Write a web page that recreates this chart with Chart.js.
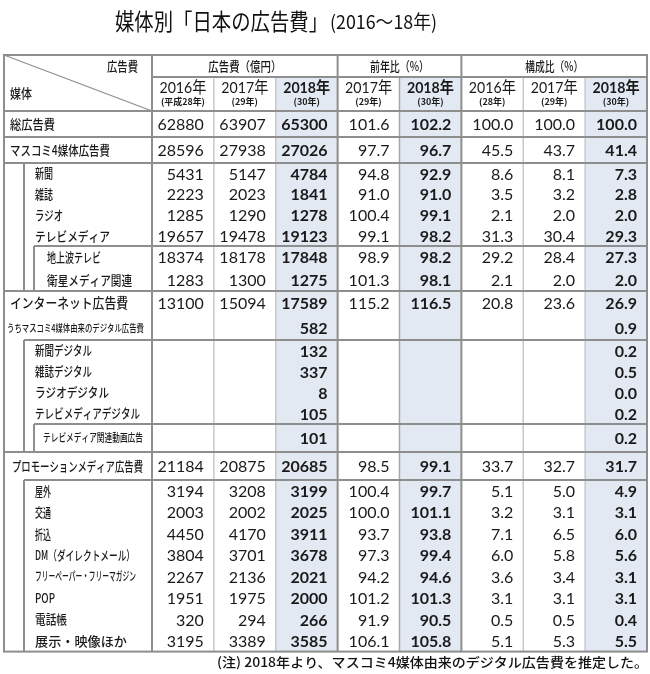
<!DOCTYPE html>
<html lang="ja">
<head>
<meta charset="utf-8">
<script src="https://cdn.jsdelivr.net/npm/chart.js@4.4.1/dist/chart.umd.min.js"></script>
<style>
  html, body { margin: 0; padding: 0; background: #fff; }
  canvas { display: block; }
</style>
</head>
<body>
<canvas id="ad-spend-table" width="650" height="674"></canvas>
<script>
// Data
const title = '媒体別「日本の広告費」';
const titleYears = '(2016〜18年)';
const footnote = '(注) 2018年より、マスコミ4媒体由来のデジタル広告費を推定した。';
const cornerLabels = ['広告費', '媒体'];
const groupLabels = ['広告費（億円）', '前年比（%）', '構成比（%）'];
const yearLabels = ['2016年', '2017年', '2018年', '2017年', '2018年', '2016年', '2017年', '2018年'];
const yearSubLabels = ['(平成28年)', '(29年)', '(30年)', '(29年)', '(30年)', '(28年)', '(29年)', '(30年)'];

const media = [
  '総広告費', 'マスコミ4媒体広告費', '新聞', '雑誌', 'ラジオ', 'テレビメディア', '地上波テレビ', '衛星メディア関連',
  'インターネット広告費', 'うちマスコミ4媒体由来のデジタル広告費', '新聞デジタル', '雑誌デジタル', 'ラジオデジタル',
  'テレビメディアデジタル', 'テレビメディア関連動画広告', 'プロモーションメディア広告費', '屋外', '交通', '折込',
  'DM（ダイレクトメール）', 'フリーペーパー・フリーマガジン', 'POP', '電話帳', '展示・映像ほか',
];
const _ = null;
const spend2016 = [62880, 28596, 5431, 2223, 1285, 19657, 18374, 1283, 13100, _, _, _, _, _, _, 21184, 3194, 2003, 4450, 3804, 2267, 1951, 320, 3195];
const spend2017 = [63907, 27938, 5147, 2023, 1290, 19478, 18178, 1300, 15094, _, _, _, _, _, _, 20875, 3208, 2002, 4170, 3701, 2136, 1975, 294, 3389];
const spend2018 = [65300, 27026, 4784, 1841, 1278, 19123, 17848, 1275, 17589, 582, 132, 337, 8, 105, 101, 20685, 3199, 2025, 3911, 3678, 2021, 2000, 266, 3585];
const yoy2017 = [101.6, 97.7, 94.8, 91.0, 100.4, 99.1, 98.9, 101.3, 115.2, _, _, _, _, _, _, 98.5, 100.4, 100.0, 93.7, 97.3, 94.2, 101.2, 91.9, 106.1];
const yoy2018 = [102.2, 96.7, 92.9, 91.0, 99.1, 98.2, 98.2, 98.1, 116.5, _, _, _, _, _, _, 99.1, 99.7, 101.1, 93.8, 99.4, 94.6, 101.3, 90.5, 105.8];
const share2016 = [100.0, 45.5, 8.6, 3.5, 2.1, 31.3, 29.2, 2.1, 20.8, _, _, _, _, _, _, 33.7, 5.1, 3.2, 7.1, 6.0, 3.6, 3.1, 0.5, 5.1];
const share2017 = [100.0, 43.7, 8.1, 3.2, 2.0, 30.4, 28.4, 2.0, 23.6, _, _, _, _, _, _, 32.7, 5.0, 3.1, 6.5, 5.8, 3.4, 3.1, 0.5, 5.3];
const share2018 = [100.0, 41.4, 7.3, 2.8, 2.0, 29.3, 27.3, 2.0, 26.9, 0.9, 0.2, 0.5, 0.0, 0.2, 0.2, 31.7, 4.9, 3.1, 6.0, 5.6, 3.1, 3.1, 0.4, 5.5];

const valueColumns = [spend2016, spend2017, spend2018, yoy2017, yoy2018, share2016, share2017, share2018];
const columnDecimals = [0, 0, 0, 1, 1, 1, 1, 1];
const boldColumns = [2, 4, 7];

// Layout (x: one value column = 1 unit, y: table pixels from the top rule)
const LABEL_COLS = 148 / 61.875;
const HEADER_ROWS = [22, 34];
const rowHeights = [26, 26, 20.75, 20.75, 20.75, 20.75, 22.5, 22.5, 24.5, 24.5, 21, 21, 21, 21, 28, 28,
  21.45, 21.45, 21.45, 21.45, 21.45, 21.45, 21.45, 21.45];
// label style per row: left offset from table edge, font size, drawn width
const labelStyle = [
  [6, 13, 45], [6, 13, 100], [31, 13, 18], [31, 13, 18], [31, 13, 28], [31, 13, 75], [43, 13, 54], [43, 13, 85],
  [6, 13.5, 118], [3, 10, 137], [31, 13, 57], [31, 13, 57], [31, 13, 74], [31, 13, 105], [39, 11, 100], [8, 13, 131],
  [31, 13, 16], [31, 13, 16], [31, 13, 16], [31, 13, 100], [31, 12, 101], [31, 13, 20], [31, 13, 32], [31, 13, 92],
];

const headerTop = HEADER_ROWS[0] + HEADER_ROWS[1];
const rowTops = [];
rowHeights.reduce((acc, h) => { rowTops.push(acc); return acc + h; }, headerTop);
const rowCenters = rowHeights.map((h, i) => rowTops[i] + h / 2);
const tableBottom = rowTops[rowTops.length - 1] + rowHeights[rowHeights.length - 1];
const rowBottom = (i) => rowTops[i] + rowHeights[i];

const CJK = '"Noto Sans CJK JP", "Noto Sans", sans-serif';
const NUM = 'Lato, "Noto Sans CJK JP", sans-serif';
const MAJOR = '#8e8e8e';
const MINOR = '#c8c8c8';
const SHADE = '#e3e9f3';

// draw text stretched or squeezed to a given width
const fitText = (ctx, text, x, y, width, align = 'left') => {
  const w = ctx.measureText(text).width;
  ctx.save();
  ctx.translate(x, y);
  ctx.scale(width / w, 1);
  ctx.textAlign = align;
  ctx.fillText(text, 0, 0);
  ctx.restore();
};

const tablePlugin = {
  id: 'adTable',
  beforeDatasetsDraw(c) {
    const { ctx } = c;
    const X = (v) => c.scales.x.getPixelForValue(v);
    const Y = (v) => c.scales.y.getPixelForValue(v);
    const left = X(-LABEL_COLS);
    const right = X(8);
    const top = Y(0);
    const bottom = Y(tableBottom);
    ctx.save();

    // shaded 2018 columns
    ctx.fillStyle = SHADE;
    boldColumns.forEach((k) => {
      ctx.fillRect(X(k), Y(HEADER_ROWS[0]), X(k + 1) - X(k), bottom - Y(HEADER_ROWS[0]));
    });

    const line = (x1, y1, x2, y2, color, w) => {
      ctx.strokeStyle = color;
      ctx.lineWidth = w;
      ctx.beginPath();
      ctx.moveTo(x1, y1);
      ctx.lineTo(x2, y2);
      ctx.stroke();
    };
    const ind1 = left + 20;
    const ind2 = left + 30;

    // minor verticals inside groups
    [1, 2, 6, 7].forEach((k) => line(X(k), Y(HEADER_ROWS[0]), X(k), bottom, MINOR, 1.5));
    line(X(4), Y(HEADER_ROWS[0]), X(4), bottom, '#a6a6a6', 1.5);

    // horizontal rules
    line(X(0), Y(HEADER_ROWS[0]), right, Y(HEADER_ROWS[0]), MAJOR, 2);
    line(left, Y(headerTop), right, Y(headerTop), MAJOR, 2);
    [0, 1, 7, 14].forEach((i) => line(left, Y(rowBottom(i)), right, Y(rowBottom(i)), MAJOR, 2));
    [1, 9, 15].forEach((i) => line(ind1, Y(rowBottom(i)), right, Y(rowBottom(i)), MAJOR, 2));
    [5, 13].forEach((i) => line(ind2, Y(rowBottom(i)), right, Y(rowBottom(i)), MAJOR, 2));

    // nested group verticals
    line(ind1, Y(rowTops[2]), ind1, Y(rowBottom(7)), MAJOR, 2);
    line(ind1, Y(rowTops[10]), ind1, Y(rowBottom(14)), MAJOR, 2);
    line(ind1, Y(rowTops[16]), ind1, bottom, MAJOR, 2);
    line(ind2, Y(rowTops[6]), ind2, Y(rowBottom(7)), MAJOR, 2);
    line(ind2, Y(rowTops[14]), ind2, Y(rowBottom(14)), MAJOR, 2);

    // group verticals and corner diagonal
    [0, 3, 5].forEach((k) => line(X(k), top, X(k), bottom, MAJOR, 2));
    line(left, top, X(0), Y(headerTop), MAJOR, 1.2);
    ctx.strokeStyle = MAJOR;
    ctx.lineWidth = 2;
    ctx.strokeRect(left, top, right - left, bottom - top);

    // header text
    ctx.fillStyle = '#1a1a1a';
    ctx.textBaseline = 'middle';
    ctx.font = `500 13px ${CJK}`;
    fitText(ctx, cornerLabels[0], X(0) - 14, Y(11), 31, 'right');
    fitText(ctx, cornerLabels[1], left + 6, Y(38), 22);

    const groupWidths = [73, 59, 58];
    [[0, 3], [3, 5], [5, 8]].forEach(([a, b], g) => {
      fitText(ctx, groupLabels[g], (X(a) + X(b)) / 2, Y(11), groupWidths[g], 'center');
    });
    ctx.textAlign = 'center';
    yearLabels.forEach((t, k) => {
      const bold = boldColumns.includes(k);
      const cx = (X(k) + X(k + 1)) / 2;
      ctx.font = `${bold ? 700 : 400} 16px ${NUM}`;
      ctx.fillText(t, cx, Y(HEADER_ROWS[0] + 11), 47);
      ctx.font = `700 9px ${CJK}`;
      ctx.fillText(yearSubLabels[k], cx, Y(HEADER_ROWS[0] + 24.5), 44);
    });

    // media labels
    media.forEach((m, i) => {
      const [off, size, width] = labelStyle[i];
      ctx.font = `500 ${size}px ${CJK}`;
      fitText(ctx, m, left + off, Y(rowCenters[i]), width);
    });

    ctx.restore();
  },
  afterDatasetsDraw(c) {
    const { ctx } = c;
    ctx.save();
    ctx.fillStyle = '#1a1a1a';
    ctx.textAlign = 'right';
    ctx.textBaseline = 'middle';
    c.data.datasets.forEach((ds, k) => {
      const meta = c.getDatasetMeta(k);
      ctx.font = `${boldColumns.includes(k) ? 700 : 400} 16px ${NUM}`;
      meta.data.forEach((pt, j) => {
        const { v } = ds.data[j];
        ctx.fillText(v.toFixed(columnDecimals[k]), pt.x - 10, pt.y + 1);
      });
    });

    // title and note
    ctx.fillStyle = '#111';
    ctx.font = `400 23px ${CJK}`;
    fitText(ctx, title, 115, 21, 213);
    ctx.font = `400 19px ${CJK}`;
    fitText(ctx, titleYears, 330, 22, 107);
    ctx.font = `500 13px ${CJK}`;
    fitText(ctx, footnote, 217, 662, 431);
    ctx.restore();
  },
};

const ctx = document.getElementById('ad-spend-table');
const chart = new Chart(ctx, {
  type: 'scatter',
  data: {
    datasets: valueColumns.map((col, k) => ({
      label: yearLabels[k],
      data: col.map((v, i) => (v === null ? null : { x: k + 1, y: rowCenters[i], v })).filter((d) => d),
      pointRadius: 0,
      pointHitRadius: 0,
    })),
  },
  options: {
    responsive: false,
    devicePixelRatio: 1,
    animation: false,
    events: [],
    layout: { padding: { left: 4, right: 3, top: 55, bottom: 674 - 55 - tableBottom } },
    scales: {
      x: { type: 'linear', min: -LABEL_COLS, max: 8, display: false },
      y: { type: 'linear', min: 0, max: tableBottom, reverse: true, display: false },
    },
    plugins: {
      legend: { display: false },
      tooltip: { enabled: false },
    },
  },
  plugins: [tablePlugin],
});
</script>
</body>
</html>
